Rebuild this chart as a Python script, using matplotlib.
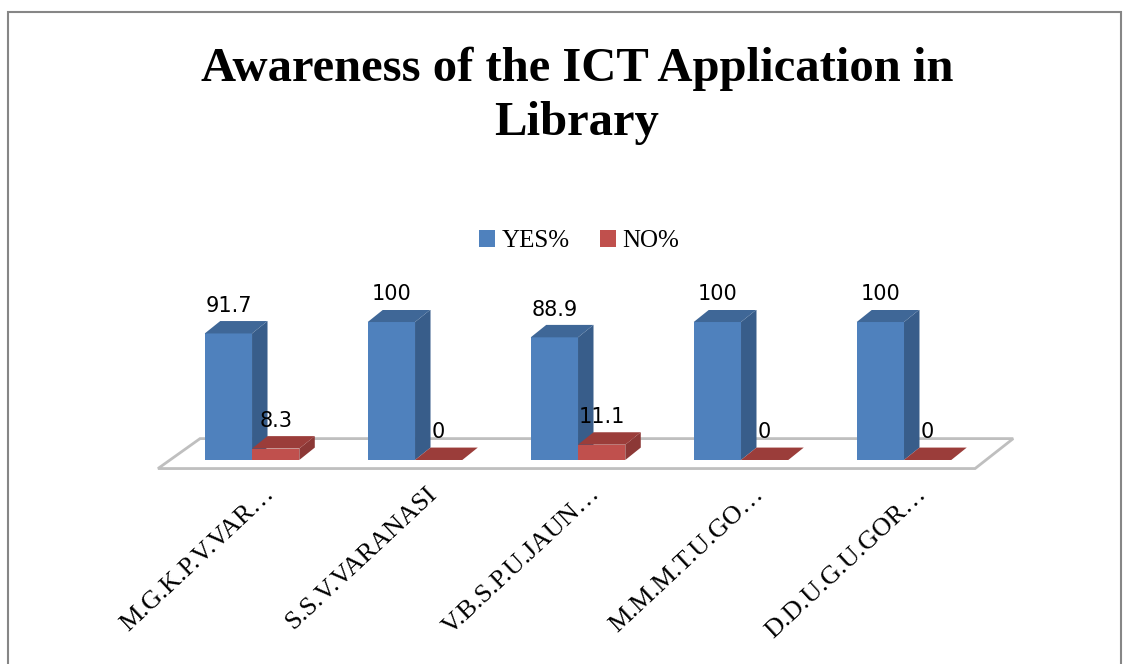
import numpy as np
import matplotlib.pyplot as plt
from matplotlib.patches import Polygon, Rectangle

# Данные диаграммы
categories = ['M.G.K.P.V.VAR…', 'S.S.V.VARANASI', 'V.B.S.P.U.JAUN…',
              'M.M.M.T.U.GO…', 'D.D.U.G.U.GOR…']
yes_pct = [91.7, 100, 88.9, 100, 100]
no_pct = [8.3, 0, 11.1, 0, 0]
series_names = ['YES%', 'NO%']

# Цвета в стиле Excel
front = {'YES%': '#4f81bd', 'NO%': '#c0504d'}
side = {'YES%': '#385d8a', 'NO%': '#8c3836'}
top = {'YES%': '#3f6797', 'NO%': '#9b3d3a'}

fig = plt.figure(figsize=(11.32, 6.64), dpi=100)
fig.patch.set_facecolor('white')

# Рамка диаграммы
fig.add_artist(Rectangle((8 / 1132, -0.05), 1113 / 1132, (652 + 33) / 664,
                         transform=fig.transFigure, fill=False,
                         edgecolor='#868686', linewidth=1.5))

ax = fig.add_axes([150 / 1132, 184 / 664, 880 / 1132, 170 / 664])
ax.set_xlim(-0.626, 4.773)
ax.set_ylim(-14.5, 108.7)
ax.axis('off')

x = np.arange(len(categories))
w = 0.29      # ширина столбца
ddx = 0.095   # глубина по x
ddy = 9.0     # глубина по y

# Пол (платформа)
n = len(categories)
floor = Polygon([(-0.577, -6.2), (n - 1 + 0.436, -6.2),
                 (n - 1 + 0.67, 15.5), (-0.319, 15.5)],
                closed=True, facecolor='white', edgecolor='#bfbfbf',
                linewidth=2, zorder=1)
ax.add_patch(floor)


def draw_bars(xs, vals, name):
    ax.bar(xs, vals, width=w, align='edge', color=front[name],
           edgecolor='none', zorder=3, label=name)
    for xi, v in zip(xs, vals):
        # боковая грань
        ax.add_patch(Polygon([(xi + w, 0), (xi + w + ddx, ddy),
                              (xi + w + ddx, v + ddy), (xi + w, v)],
                             facecolor=side[name], edgecolor='none', zorder=2))
        # верхняя грань
        ax.add_patch(Polygon([(xi, v), (xi + ddx, v + ddy),
                              (xi + w + ddx, v + ddy), (xi + w, v)],
                             facecolor=top[name], edgecolor='none', zorder=3))
        lbl = ('%g' % v)
        ax.text(xi + w / 2, v + 20, lbl, ha='center', va='center',
                fontsize=15, family='DejaVu Sans', zorder=5)


draw_bars(x - w, yes_pct, 'YES%')
draw_bars(x, no_pct, 'NO%')

# Подписи категорий
for xi, c in zip(x, categories):
    ax.text(xi + 0.07, -16.5, c, rotation=43, ha='right', va='top',
            rotation_mode='anchor', fontsize=19, family='Liberation Serif')

# Заголовок
fig.text(577 / 1132, 1 - 96 / 664, 'Awareness of the ICT Application in\nLibrary',
         ha='center', va='center', fontsize=35, fontweight='bold',
         family='Liberation Serif', linespacing=1.3)

# Легенда
leg = fig.legend(loc='center', bbox_to_anchor=(579 / 1132, 1 - 241 / 664),
                 ncol=2, frameon=False, prop={'family': 'Liberation Serif', 'size': 18},
                 handlelength=0.65, handleheight=0.65, handletextpad=0.25,
                 columnspacing=1.2)

fig.savefig('out.png', dpi=100)
